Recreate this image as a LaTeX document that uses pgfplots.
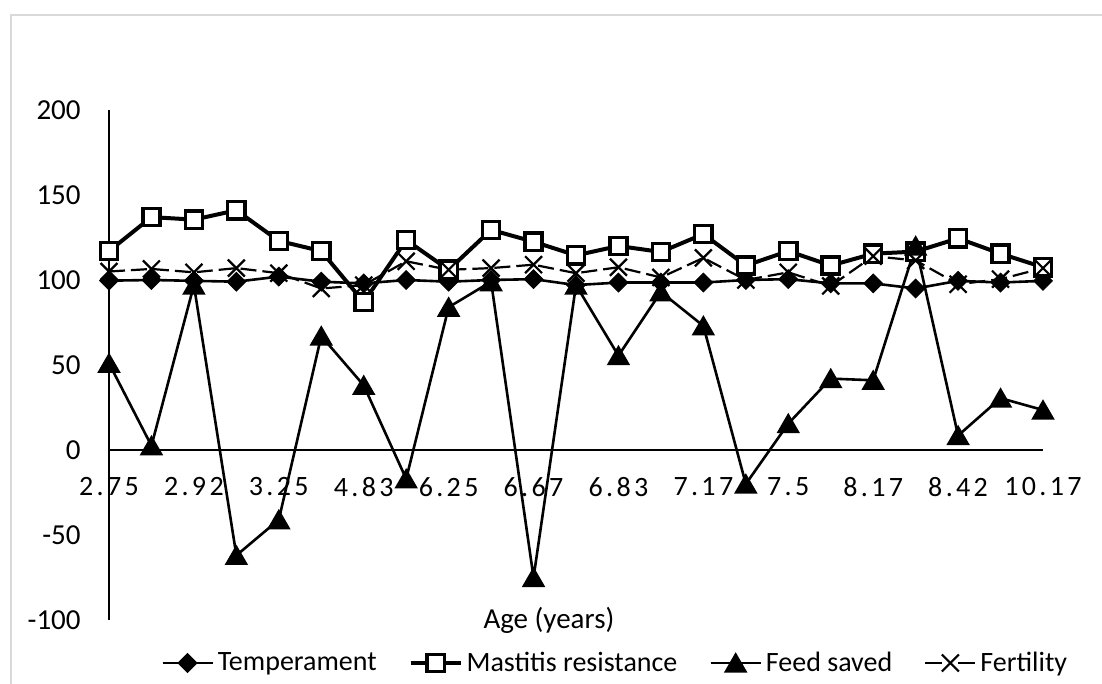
\documentclass[border=0pt]{standalone}
\usepackage{fontspec}
\setmainfont{Carlito}
\newfontfamily\tickfont[LetterSpace=12]{Carlito}
\usepackage{pgfplots}
\pgfplotsset{compat=1.18}
\definecolor{framegray}{RGB}{217,217,217}
\pgfplotstableread{
idx T M F R
0 99.6 117 51 105
1 100 137 2.5 106.5
2 99.5 135.5 97 104.5
3 99 141 -62 107
4 102 123 -41 104
5 99 117 67 95
6 98 87 38 97
7 100 123.5 -17 111
8 99 106 84 106
9 100 129.5 99 107
10 100.5 122.5 -75 109
11 97 114.5 97 104
12 98.5 120 55.5 107.5
13 98.5 116.5 93 101.5
14 98.5 127 73 113
15 100 108.5 -20 100
16 100.5 117 15.5 104.5
17 98 108.5 42 96.5
18 98 115.5 41 114
19 95 116.7 120 111.5
20 99.5 124.5 8.5 97.5
21 98.5 115.5 30.5 100.5
22 99.5 107.5 23.5 107
}\datatable
\begin{document}
\begin{tikzpicture}[x=1pt,y=1pt]
\useasboundingbox (0,0) rectangle (551,342);
\fill[white] (0,0) rectangle (551,342);
\draw[framegray, line width=1pt] (5.5,-2) -- (5.5,334.5) -- (553,334.5);
\begin{axis}[
  at={(54.5pt,32pt)}, anchor=south west,
  scale only axis, width=467pt, height=255pt,
  xmin=0, xmax=22, ymin=-100, ymax=200,
  axis x line*=middle, axis y line*=left,
  axis line style={line width=0.6pt, black},
  hide obscured x ticks=false, hide obscured y ticks=false,
  xtick={0,2,...,22},
  xticklabels={2.75,2.92,3.25,4.83,6.25,6.67,6.83,7.17,7.5,8.17,8.42,10.17},
  ytick={-100,-50,0,50,100,150,200},
  yticklabels={-100,-50,0,50,100,150,200},
  major tick length=0pt,
  xticklabel style={font=\tickfont\fontsize{14}{16}\selectfont, anchor=center, yshift=-18.5pt},
  yticklabel style={font=\fontsize{14.5}{16}\selectfont, anchor=east, inner sep=0pt, xshift=-14pt},
  xlabel={Age (years)},
  every axis x label/.style={at={(axis description cs:0.471,0)}, anchor=center, font=\fontsize{14.5}{16}\selectfont},
  clip=false,
  legend columns=4,
  legend style={at={(0.543,-0.0843)}, anchor=center, draw=none, fill=none,
    font=\fontsize{14}{16}\selectfont,
    /tikz/every even column/.append style={column sep=14pt}},
  legend image code/.code={\draw[mark repeat=2,mark phase=2] plot coordinates {(0pt,0pt)(12.5pt,0pt)(25pt,0pt)};},
]
\addplot[black, line width=1.3pt, mark=square*, mark size=3.3pt, mark options={solid, rotate=45, fill=black, line width=0.5pt}] table[x=idx, y=T] {\datatable};
\addlegendentry{Temperament}
\addplot[black, line width=2pt, mark=square*, mark size=4.3pt, mark options={solid, fill=white, line width=1.7pt}] table[x=idx, y=M] {\datatable};
\addlegendentry{Mastitis resistance}
\addplot[black, line width=1.3pt, mark=triangle*, mark size=5.5pt, mark options={solid, fill=black, yshift=-1.4pt}] table[x=idx, y=F] {\datatable};
\addlegendentry{Feed saved}
\addplot[black, line width=1.1pt, dash pattern=on 8pt off 3pt, mark=x, mark size=6pt, mark options={solid, line width=1.1pt},
  legend image post style={dash pattern=on 8.5pt off 8pt}] table[x=idx, y=R] {\datatable};
\addlegendentry{Fertility}
\end{axis}
\end{tikzpicture}
\end{document}
